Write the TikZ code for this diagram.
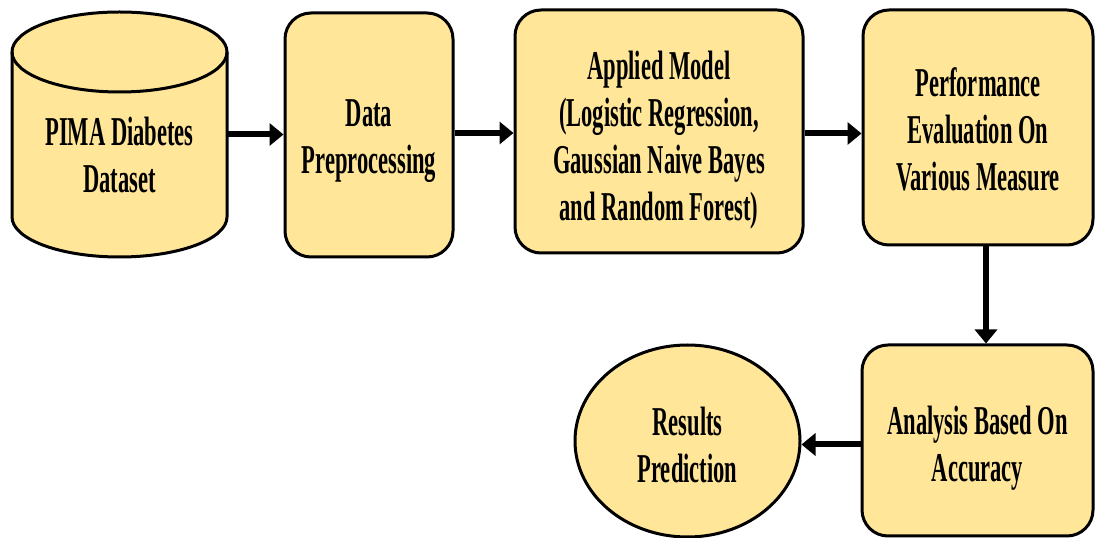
\documentclass[tikz,border=0pt]{standalone}
\usepackage{fontspec}
\newfontfamily\labfont{Liberation Serif}[FakeStretch=0.55]
\newcommand\topstrut[1]{\rule{0pt}{#1}}
\usetikzlibrary{arrows.meta,shapes.geometric,calc}
\definecolor{boxfill}{HTML}{FFE699}
\tikzset{
  txt/.style={font=\labfont\bfseries\fontsize{41pt}{47pt}\selectfont, align=center, text=black},
  stepbox/.style={txt, draw=black, line width=3pt, fill=boxfill, rounded corners=26pt, inner sep=0pt},
  ovalbox/.style={txt, ellipse, draw=black, line width=3pt, fill=boxfill, inner sep=0pt},
  flow/.style={line width=6pt, -{Triangle[length=14pt,width=22pt]}},
}
\begin{document}
\begin{tikzpicture}[x=1pt,y=1pt]
\useasboundingbox (0,0) rectangle (1095,538);
% cylinder
\filldraw[fill=boxfill, draw=black, line width=3pt]
  (12,486) -- (12,321) arc[start angle=180,end angle=360,x radius=107.5,y radius=40]
  -- (227,486) arc[start angle=0,end angle=180,x radius=107.5,y radius=40] -- cycle;
\draw[line width=3pt] (12,486) arc[start angle=180,end angle=360,x radius=107.5,y radius=40];
\node[draw=none, minimum width=215pt, minimum height=245pt, inner sep=0pt] (cyl) at (119.5,403.5) {};
\node[txt] (cyltext) at ([yshift=-20pt]cyl.center) {PIMA Diabetes\\Dataset};

\node[stepbox, minimum width=168pt, minimum height=244pt] (dp) at (369,403) {\topstrut{39pt}Data\\Preprocessing};
\node[stepbox, minimum width=288pt, minimum height=243pt] (am) at (659,406.5) {\topstrut{45pt}Applied Model\\(Logistic Regression,\\Gaussian Naive Bayes\\and Random Forest)};
\node[stepbox, minimum width=230pt, minimum height=235pt] (pf) at (978,410.5) {\topstrut{33pt}Performance\\Evaluation On\\Various Measure};
\node[stepbox, minimum width=231pt, minimum height=191pt] (an) at (977.5,97.5) {\topstrut{43pt}Analysis Based On\\Accuracy};
\node[ovalbox, minimum width=225pt, minimum height=192pt] (res) at (687.5,97) {\topstrut{37pt}Results\\Prediction};

\draw[flow] (cyl.east) -- (cyl.east -| dp.west);
\draw[flow] ([yshift=2pt]dp.east) -- ([yshift=2pt]dp.east -| am.west);
\draw[flow] ([yshift=-2pt]am.east) -- ([yshift=-2pt]am.east -| pf.west);
\draw[flow] ([xshift=8pt]pf.south) -- ([xshift=8pt]pf.south |- an.north);
\draw[flow] ([yshift=-4pt]an.west) -- ([yshift=-4pt]an.west -| res.east);
\end{tikzpicture}
\end{document}
